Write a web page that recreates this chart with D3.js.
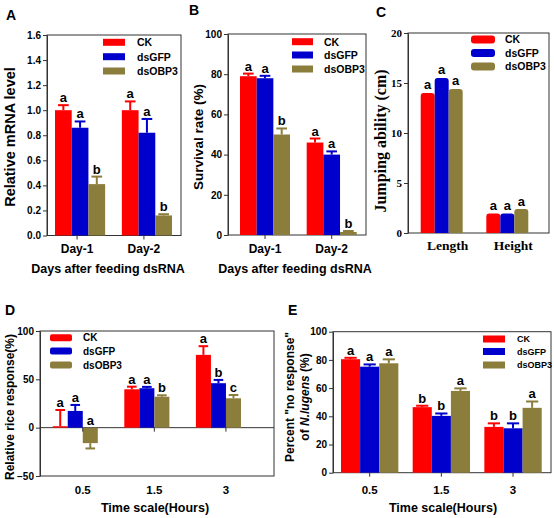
<!DOCTYPE html>
<html><head><meta charset="utf-8">
<script src="https://cdn.jsdelivr.net/npm/d3@7"></script>
<style>
body{margin:0;background:#fff}
svg{display:block}
</style>
</head><body>
<svg id="chart" width="554" height="518"></svg>
<script>
// ---------------- DATA ----------------
const seriesNames = ["CK", "dsGFP", "dsOBP3"];
const seriesColors = ["#ff0000", "#0000cc", "#8b7d3b"];

// Panel A: relative mRNA level (rows = series, cols = groups)
const aGroups = ["Day-1", "Day-2"];
const aMean = [[1.00, 1.00], [0.86, 0.82], [0.41, 0.16]];
const aErr  = [[0.04, 0.07], [0.05, 0.11], [0.06, 0.01]];
const aSig  = [["a", "a"], ["a", "a"], ["b", "b"]];
const aTicks = [0, 0.2, 0.4, 0.6, 0.8, 1.0, 1.2, 1.4, 1.6];

// Panel B: survival rate (%)
const bGroups = ["Day-1", "Day-2"];
const bMean = [[79, 46], [78, 40], [50, 1.5]];
const bErr  = [[1.3, 2.0], [1.2, 1.6], [3.0, 0.5]];
const bSig  = [["a", "a"], ["a", "a"], ["b", "b"]];
const bTicks = [0, 20, 40, 60, 80, 100];

// Panel C: jumping ability (cm)
const cGroups = ["Length", "Height"];
const cMean = [[14.0, 1.95], [15.5, 1.95], [14.4, 2.4]];
const cErr  = [[0.1, 0.05], [0.1, 0.05], [0.1, 0.05]];
const cSig  = [["a", "a"], ["a", "a"], ["a", "a"]];
const cTicks = [0, 5, 10, 15, 20];

// Panel D: relative rice response (%)
const dGroups = ["0.5", "1.5", "3"];
const dMean = [[1.5, 39.7, 75.3], [17.3, 40.8, 46.0], [-16.0, 32.0, 30.4]];
const dErr  = [[16.8, 2.7, 9.0], [6.2, 1.4, 3.4], [5.5, 1.5, 3.4]];
const dSig  = [["a", "a", "a"], ["a", "a", "b"], ["a", "b", "c"]];
const dTicks = [-50, 0, 50, 100];

// Panel E: percent "no response" of N. lugens (%)
const eGroups = ["0.5", "1.5", "3"];
const eMean = [[80.5, 46.5, 32.5], [75.2, 40.3, 31.5], [77.6, 58.0, 46.0]];
const eErr  = [[1.0, 1.0, 2.5], [1.6, 1.7, 3.5], [2.8, 1.8, 4.5]];
const eSig  = [["a", "b", "b"], ["a", "b", "b"], ["a", "a", "a"]];
const eTicks = [0, 20, 40, 60, 80, 100];

// ---------------- DRAWING ----------------
const svg = d3.select("#chart");
const SANS = 'Arial, "Liberation Sans", sans-serif';
const SERIF = '"Times New Roman", "Liberation Serif", serif';

function roundTopPath(x, yTop, w, yBase, r) {
  const h = yBase - yTop;
  r = Math.min(r, h, w / 2);
  return `M${x},${yBase}V${yTop + r}Q${x},${yTop} ${x + r},${yTop}H${x + w - r}Q${x + w},${yTop} ${x + w},${yTop + r}V${yBase}Z`;
}

function panel(o) {
  const g = svg.append("g");
  const y = d3.scaleLinear().domain(o.yDom).range([o.bottom, o.top]);
  const x0 = d3.scaleBand().domain(o.groups).range(o.bandRange).paddingInner(o.pInner).paddingOuter(0);
  const x1 = d3.scaleBand().domain(seriesNames).range([0, x0.bandwidth()]);
  const bw = x1.bandwidth();
  const font = o.serif ? SERIF : SANS;

  // frame
  g.append("rect").attr("x", o.left).attr("y", o.top)
    .attr("width", o.right - o.left).attr("height", o.bottom - o.top)
    .attr("fill", "none").attr("stroke", "#333").attr("stroke-width", 1);

  if (o.yDom[0] < 0) {
    g.append("line").attr("x1", o.left).attr("x2", o.right)
      .attr("y1", y(0)).attr("y2", y(0)).attr("stroke", "#333").attr("stroke-width", 1);
  }

  // y axis
  const ax = d3.axisLeft(y).tickValues(o.ticks).tickSize(4).tickSizeOuter(0).tickPadding(2)
    .tickFormat(o.fmt || d3.format("d"));
  const ga = g.append("g").attr("transform", `translate(${o.left},0)`).call(ax);
  ga.attr("font-family", null).attr("font-size", null);
  ga.select(".domain").attr("stroke", "#333");
  ga.selectAll(".tick line").attr("stroke", "#333");
  ga.selectAll("text").style("font-family", font).style("font-weight", "bold")
    .style("font-size", (o.tickFS || 10) + "px").attr("fill", "#000");

  // bars
  seriesNames.forEach((s, si) => {
    o.groups.forEach((grp, gi) => {
      const v = o.mean[si][gi];
      const xb = x0(grp) + x1(s);
      const yTop = y(Math.max(0, v)), yBot = y(Math.min(0, v));
      if (o.rounded) {
        g.append("path").attr("d", roundTopPath(xb, yTop, bw, yBot, 3)).attr("fill", seriesColors[si]);
      } else {
        g.append("rect").attr("x", xb).attr("y", yTop).attr("width", bw)
          .attr("height", Math.max(0.8, yBot - yTop)).attr("fill", seriesColors[si]);
      }
    });
  });

  // error bars and letters
  seriesNames.forEach((s, si) => {
    o.groups.forEach((grp, gi) => {
      const v = o.mean[si][gi], e = o.err[si][gi];
      const cx = x0(grp) + x1(s) + bw / 2;
      const yv = y(v), ye = v >= 0 ? y(v + e) : y(v - e);
      if (!o.noErr) {
        g.append("line").attr("x1", cx).attr("x2", cx).attr("y1", yv).attr("y2", ye)
          .attr("stroke", seriesColors[si]).attr("stroke-width", 2);
        g.append("line").attr("x1", cx - bw * 0.32).attr("x2", cx + bw * 0.32).attr("y1", ye).attr("y2", ye)
          .attr("stroke", seriesColors[si]).attr("stroke-width", 2);
      }
      const ly = (v >= 0 ? ye : y(0)) - 3;
      g.append("text").attr("x", cx).attr("y", ly).attr("text-anchor", "middle")
        .style("font-family", SANS).style("font-weight", "bold").style("font-size", "13px")
        .text(o.sig[si][gi]);
    });
  });

  // x category labels and ticks
  o.groups.forEach(grp => {
    const cx = x0(grp) + x0.bandwidth() / 2 + (o.labelDx || 0);
    if (!o.noXTicks) {
      const ty = y(Math.max(o.yDom[0], 0));
      g.append("line").attr("x1", cx).attr("x2", cx).attr("y1", ty).attr("y2", ty + 4)
        .attr("stroke", "#333");
    }
    g.append("text").attr("x", cx).attr("y", o.labelY).attr("text-anchor", "middle")
      .style("font-family", font).style("font-weight", "bold").style("font-size", (o.catFS || 12) + "px")
      .text(grp);
  });

  // legend
  const L = o.legend;
  seriesNames.forEach((s, si) => {
    g.append("rect").attr("x", L.x).attr("y", L.ys[si] - L.h / 2).attr("width", L.w).attr("height", L.h)
      .attr("rx", L.rx || 0).attr("fill", seriesColors[si]);
    g.append("text").attr("x", L.tx).attr("y", L.ys[si] + L.fs * 0.37)
      .style("font-family", SANS).style("font-weight", "bold").style("font-size", L.fs + "px").text(s);
  });

  // y title
  const yt = g.append("text").attr("transform", `translate(${o.yTitleX},${o.yTitleY}) rotate(-90)`)
    .attr("text-anchor", "middle").style("font-family", font).style("font-weight", "bold")
    .style("font-size", o.yTitleFS + "px");
  if (Array.isArray(o.yTitle)) {
    o.yTitle.forEach((line, i) => {
      const t = yt.append("tspan").attr("x", 0).attr("y", i * o.yTitleLH);
      line.forEach(part => {
        t.append("tspan").style("font-style", part.it ? "italic" : "normal").text(part.t);
      });
    });
  } else {
    yt.text(o.yTitle);
  }

  // x title
  if (o.xTitle) {
    g.append("text").attr("x", o.xTitleX).attr("y", o.xTitleY).attr("text-anchor", "middle")
      .style("font-family", SANS).style("font-weight", "bold").style("font-size", "12.5px").text(o.xTitle);
  }

  // panel letter
  g.append("text").attr("x", o.letterX).attr("y", o.letterY)
    .style("font-family", SANS).style("font-weight", "bold").style("font-size", "14px").text(o.letter);
}

panel({
  letter: "A", letterX: 6, letterY: 20,
  left: 47, right: 181, top: 35, bottom: 235.5,
  yDom: [0, 1.6], ticks: aTicks, fmt: d3.format(".1f"),
  groups: aGroups, mean: aMean, err: aErr, sig: aSig,
  bandRange: [55, 172], pInner: 0.25,
  labelY: 253, labelDx: -3,
  legend: { x: 103, w: 22, h: 7, tx: 137, fs: 10.5, ys: [42.3, 56.7, 71] },
  yTitle: "Relative mRNA level", yTitleX: 15, yTitleY: 137, yTitleFS: 14.5,
  xTitle: "Days after feeding dsRNA", xTitleX: 108, xTitleY: 273
});

panel({
  letter: "B", letterX: 189, letterY: 15,
  left: 228, right: 366, top: 34, bottom: 235,
  yDom: [0, 100], ticks: bTicks,
  groups: bGroups, mean: bMean, err: bErr, sig: bSig,
  bandRange: [240, 356.7], pInner: 0.25,
  labelY: 253,
  legend: { x: 292, w: 21, h: 7, tx: 324, fs: 10.5, ys: [41.7, 55, 69] },
  yTitle: "Survival rate (%)", yTitleX: 203, yTitleY: 137, yTitleFS: 13.5,
  xTitle: "Days after feeding dsRNA", xTitleX: 295, xTitleY: 273
});

panel({
  letter: "C", letterX: 376, letterY: 17,
  left: 408, right: 549, top: 33, bottom: 233,
  yDom: [0, 20], ticks: cTicks, serif: true, tickFS: 11,
  groups: cGroups, mean: cMean, err: cErr, sig: cSig, rounded: true, noErr: true,
  bandRange: [420.7, 528.3], pInner: 0.36,
  labelY: 250, labelDx: 6, catFS: 13.5, noXTicks: true,
  legend: { x: 471, w: 24, h: 8, rx: 3, tx: 505, fs: 10.5, ys: [39.5, 53, 66.5] },
  yTitle: "Jumping ability (cm)", yTitleX: 386, yTitleY: 141, yTitleFS: 16
});

panel({
  letter: "D", letterX: 5, letterY: 315,
  left: 40, right: 274, top: 331, bottom: 476,
  yDom: [-50, 100], ticks: dTicks,
  groups: dGroups, mean: dMean, err: dErr, sig: dSig,
  bandRange: [52.7, 241], pInner: 0.37,
  labelY: 494, labelDx: 7.5, catFS: 11.5,
  legend: { x: 50, w: 22, h: 7, rx: 2, tx: 83, fs: 10, ys: [337.7, 351, 365] },
  yTitle: "Relative rice response(%)", yTitleX: 14, yTitleY: 407, yTitleFS: 12,
  xTitle: "Time scale(Hours)", xTitleX: 155, xTitleY: 512
});

panel({
  letter: "E", letterX: 288, letterY: 315,
  left: 333, right: 551, top: 331.7, bottom: 472.7,
  yDom: [0, 100], ticks: eTicks,
  groups: eGroups, mean: eMean, err: eErr, sig: eSig,
  bandRange: [341, 541.7], pInner: 0.2,
  labelY: 494, catFS: 11.5,
  legend: { x: 483, w: 22, h: 7, tx: 517, fs: 9, ys: [339, 351.5, 365] },
  yTitle: [[{ t: 'Percent "no response"' }], [{ t: "of " }, { t: "N.lugens", it: true }, { t: " (%)" }]],
  yTitleLH: 15, yTitleX: 294, yTitleY: 397, yTitleFS: 12,
  xTitle: "Time scale(Hours)", xTitleX: 443, xTitleY: 512
});
</script>
</body></html>
